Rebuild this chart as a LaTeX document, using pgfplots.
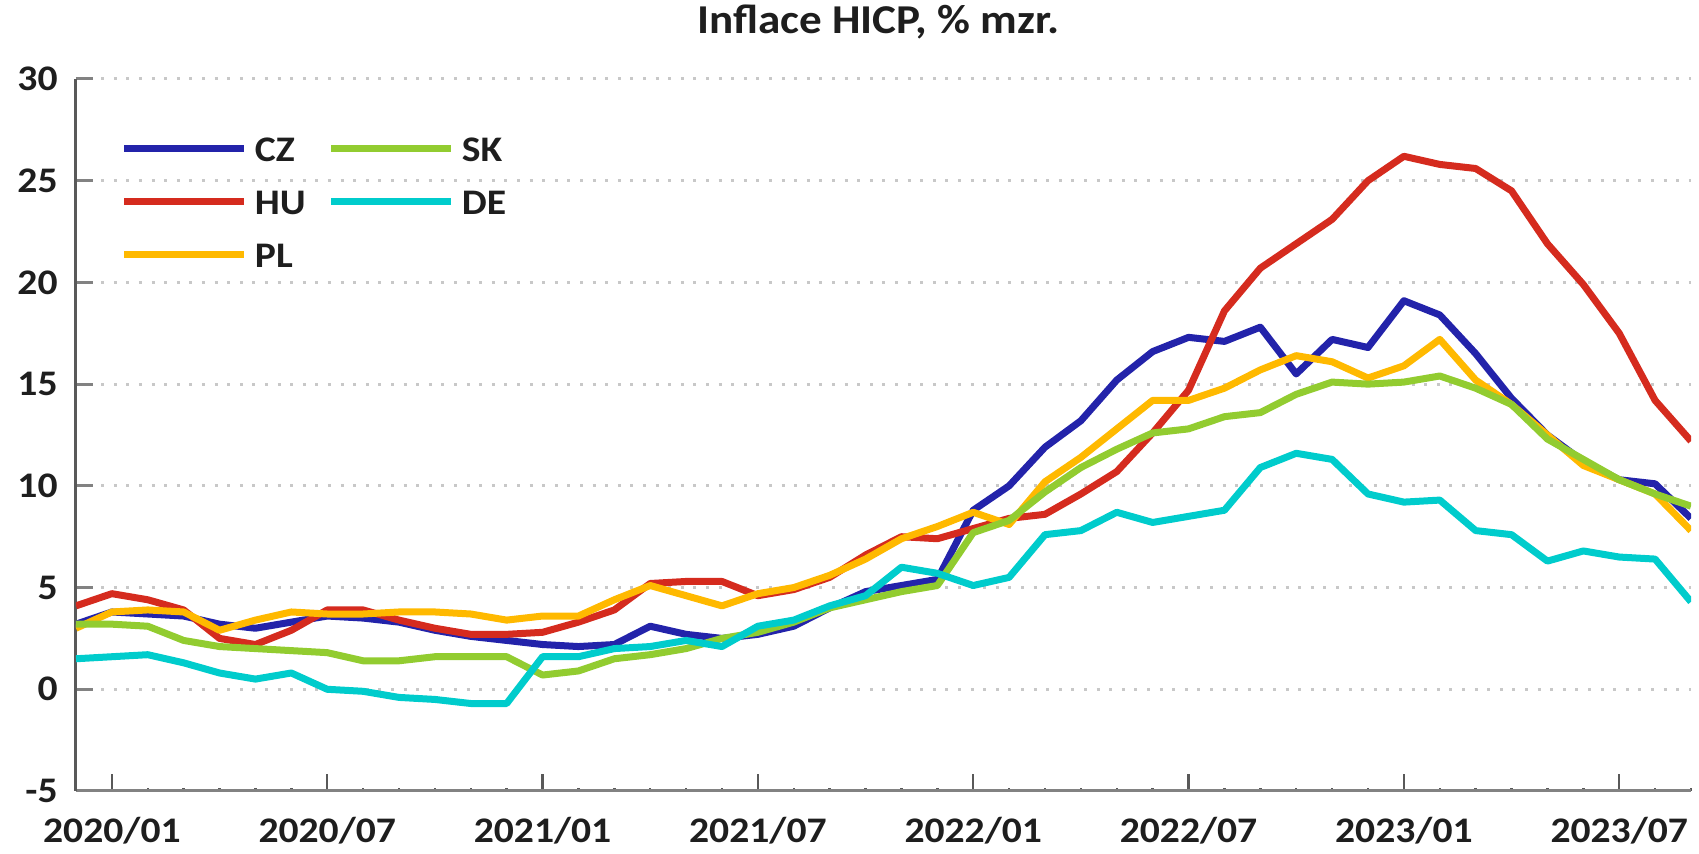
\documentclass[border=0pt]{standalone}
\usepackage{fontspec}
\setmainfont{Carlito}[FakeStretch=1.1]
\usepackage{pgfplots}
\usepackage{pgfplotstable}
\pgfplotsset{compat=1.18}
\definecolor{czc}{RGB}{35,35,170}
\definecolor{huc}{RGB}{213,43,30}
\definecolor{plc}{RGB}{255,185,0}
\definecolor{skc}{RGB}{146,204,48}
\definecolor{dec}{RGB}{0,204,204}
\definecolor{txt}{RGB}{30,30,30}
\definecolor{axc}{RGB}{89,89,89}
\definecolor{grd}{RGB}{200,200,200}

\pgfplotstableread{
m cz hu pl sk de
-1 3.2 4.1 3.0 3.2 1.5
0 3.8 4.7 3.8 3.2 1.6
1 3.7 4.4 3.9 3.1 1.7
2 3.6 3.9 3.8 2.4 1.3
3 3.2 2.5 2.9 2.1 0.8
4 3.0 2.2 3.4 2.0 0.5
5 3.3 2.9 3.8 1.9 0.8
6 3.6 3.9 3.7 1.8 0.0
7 3.5 3.9 3.7 1.4 -0.1
8 3.3 3.4 3.8 1.4 -0.4
9 2.9 3.0 3.8 1.6 -0.5
10 2.6 2.7 3.7 1.6 -0.7
11 2.4 2.7 3.4 1.6 -0.7
12 2.2 2.8 3.6 0.7 1.6
13 2.1 3.3 3.6 0.9 1.6
14 2.2 3.9 4.4 1.5 2.0
15 3.1 5.2 5.1 1.7 2.1
16 2.7 5.3 4.6 2.0 2.4
17 2.5 5.3 4.1 2.5 2.1
18 2.7 4.6 4.7 2.8 3.1
19 3.1 4.9 5.0 3.3 3.4
20 4.0 5.5 5.6 4.0 4.1
21 4.8 6.6 6.4 4.4 4.6
22 5.1 7.5 7.4 4.8 6.0
23 5.4 7.4 8.0 5.1 5.7
24 8.8 7.9 8.7 7.7 5.1
25 10.0 8.4 8.1 8.3 5.5
26 11.9 8.6 10.2 9.7 7.6
27 13.2 9.6 11.4 10.9 7.8
28 15.2 10.7 12.8 11.8 8.7
29 16.6 12.6 14.2 12.6 8.2
30 17.3 14.7 14.2 12.8 8.5
31 17.1 18.6 14.8 13.4 8.8
32 17.8 20.7 15.7 13.6 10.9
33 15.5 21.9 16.4 14.5 11.6
34 17.2 23.1 16.1 15.1 11.3
35 16.8 25.0 15.3 15.0 9.6
36 19.1 26.2 15.9 15.1 9.2
37 18.4 25.8 17.2 15.4 9.3
38 16.5 25.6 15.2 14.8 7.8
39 14.3 24.5 14.0 14.0 7.6
40 12.5 21.9 12.5 12.3 6.3
41 11.2 19.9 11.0 11.3 6.8
42 10.3 17.5 10.3 10.3 6.5
43 10.1 14.2 9.6 9.6 6.4
44 8.4 12.2 7.8 9.0 4.3
}\data

\begin{document}
\begin{tikzpicture}
\begin{axis}[
  at={(0pt,0pt)}, anchor=south west,
  width=807.5pt, height=356pt, scale only axis,
  xmin=-1, xmax=44, ymin=-5, ymax=30,
  axis x line=bottom, axis y line=left,
  axis line style={-},
  x axis line style={line width=1.5pt, color=axc!75},
  y axis line style={line width=1.5pt, color=axc},
  xtick={0,6,...,42},
  xticklabels={2020/01,2020/07,2021/01,2021/07,2022/01,2022/07,2023/01,2023/07},
  minor xtick={-1,0,...,44},
  ytick={-5,0,...,30},
  xtick align=inside, ytick align=inside,
  major tick length=8.5pt, minor tick length=1.5pt,
  minor tick style={line width=0.8pt, color=axc!60},
  xtick style={line width=1.2pt, color=axc},
  ytick style={line width=1.5pt, color=axc!75},
  ymajorgrids,
  grid style={line width=1.5pt, color=grd, dash pattern=on 1.5pt off 4.8pt},
  /pgf/number format/assume math mode=true,
  ticklabel style={font=\bfseries\fontsize{18}{20}\selectfont, text=txt},
  yticklabel style={inner sep=0pt, xshift=-9pt},
  xticklabel style={inner sep=0pt, yshift=-13pt},
  title={Inflace HICP, \% mzr.},
  title style={font=\bfseries\fontsize{20.5}{24}\selectfont, text=txt, at={(0.5,1)}, anchor=base, yshift=16.75pt, xshift=-2.5pt},
  legend columns=3, transpose legend,
  legend cell align=left,
  legend style={at={(0,1)}, anchor=north west, xshift=22.5pt, yshift=-28.5pt,
    draw=none, fill=none, inner sep=0pt, outer sep=0pt,
    row sep=13.5pt, column sep=3.5pt,
    font=\bfseries\fontsize{18}{20}\selectfont, text=txt,
    /tikz/every even column/.append style={column sep=11pt},
    nodes={inner sep=0pt, text height=13pt, text depth=0pt}},
  legend image code/.code={\draw[#1, line width=3.5pt] (0pt,0pt) -- (60pt,0pt);},
  every axis plot/.append style={line width=3.5pt, line join=round, no markers},
]
\addplot[czc] table[x=m, y=cz] {\data};
\addlegendentry{CZ}
\addplot[huc] table[x=m, y=hu] {\data};
\addlegendentry{HU}
\addplot[plc] table[x=m, y=pl] {\data};
\addlegendentry{PL}
\addplot[skc] table[x=m, y=sk] {\data};
\addlegendentry{SK}
\addplot[dec] table[x=m, y=de] {\data};
\addlegendentry{DE}
\end{axis}
\pgfresetboundingbox
\path[use as bounding box] (-38pt,-31.5pt) rectangle (811.5pt,395.5pt);
\end{tikzpicture}
\end{document}
